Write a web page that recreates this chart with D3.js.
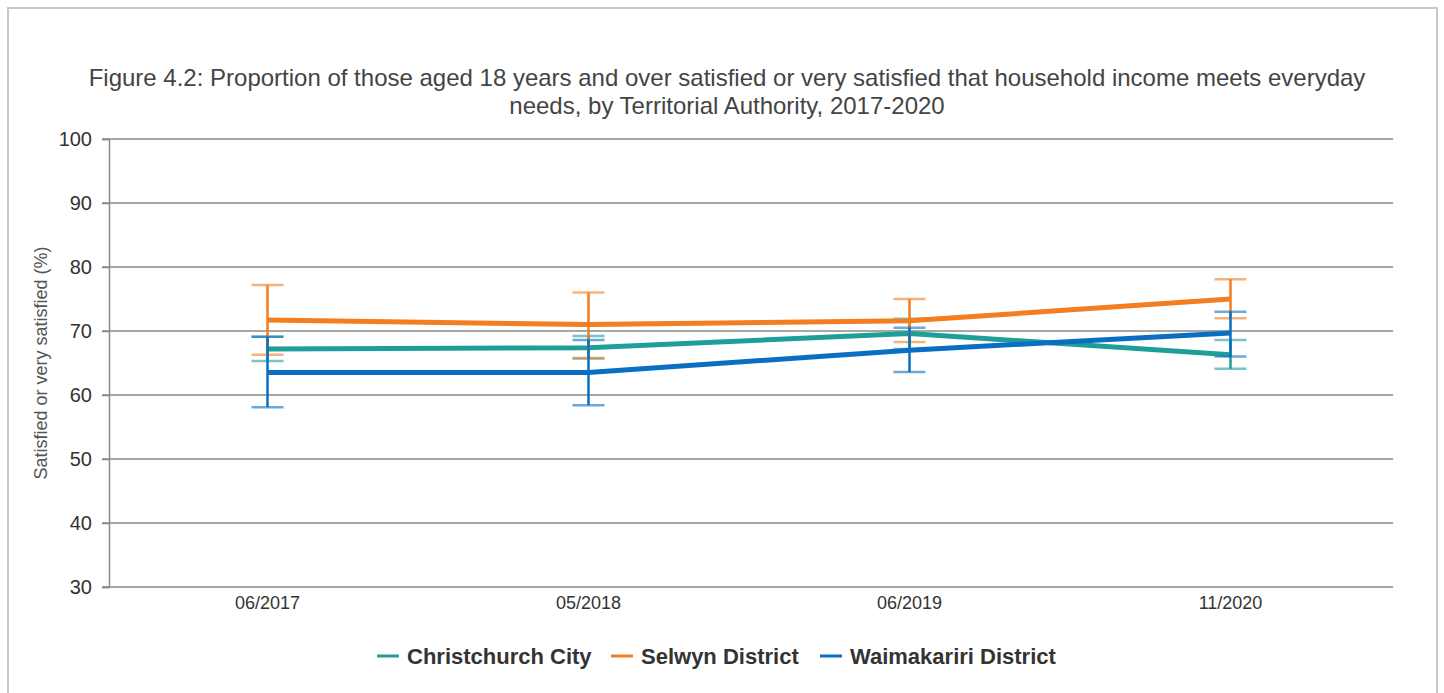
<!DOCTYPE html>
<html>
<head>
<meta charset="utf-8">
<script src="https://cdn.jsdelivr.net/npm/d3@7"></script>
<style>
  body { margin: 0; background: #fff; font-family: "Liberation Sans", Arial, sans-serif; }
</style>
</head>
<body>
<svg id="chart" width="1444" height="693"></svg>
<script>
// ===== DATA =====
const periods = ["06/2017", "05/2018", "06/2019", "11/2020"];
const yTicks = [30, 40, 50, 60, 70, 80, 90, 100];

const christchurchVals = [67.2, 67.4, 69.6, 66.3];
const christchurchLow = [65.3, 65.7, 67.2, 64.1];
const christchurchHigh = [69.1, 69.2, 71.9, 68.6];

const selwynVals = [71.7, 71.0, 71.6, 75.0];
const selwynLow = [66.3, 65.8, 68.3, 72.0];
const selwynHigh = [77.2, 76.0, 75.0, 78.1];

const waimakaririVals = [63.5, 63.5, 67.0, 69.7];
const waimakaririLow = [58.1, 58.4, 63.6, 66.0];
const waimakaririHigh = [69.1, 68.6, 70.5, 73.0];

const series = [
  { name: "Christchurch City", color: "#1f9e98", vals: christchurchVals, low: christchurchLow, high: christchurchHigh },
  { name: "Selwyn District", color: "#f47d20", vals: selwynVals, low: selwynLow, high: selwynHigh },
  { name: "Waimakariri District", color: "#0a6fc2", vals: waimakaririVals, low: waimakaririLow, high: waimakaririHigh },
];

// ===== SETUP =====
const svg = d3.select("#chart");
const plot = { left: 109, right: 1393, top: 139, bottom: 587 };

svg.append("rect")
  .attr("x", 8).attr("y", 8).attr("width", 1429).attr("height", 720)
  .attr("fill", "#fff").attr("stroke", "#c8c8c8").attr("stroke-width", 2);

const x = d3.scaleBand().domain(periods).range([plot.left, plot.right]);
const y = d3.scaleLinear().domain([30, 100]).range([plot.bottom, plot.top]);

// title
const title = svg.append("text")
  .attr("text-anchor", "middle")
  .attr("fill", "#444")
  .style("font-size", "24px");
title.append("tspan").attr("x", 727).attr("y", 86)
  .text("Figure 4.2: Proportion of those aged 18 years and over satisfied or very satisfied that household income meets everyday");
title.append("tspan").attr("x", 727).attr("y", 114)
  .text("needs, by Territorial Authority, 2017-2020");

// grid
svg.append("g")
  .selectAll("line")
  .data(yTicks)
  .join("line")
  .attr("x1", plot.left - 7).attr("x2", plot.right)
  .attr("y1", (d) => y(d)).attr("y2", (d) => y(d))
  .attr("stroke", "#8a8a8a").attr("stroke-width", 1.5);

// y axis
const yAxis = svg.append("g")
  .attr("transform", `translate(${plot.left},0)`)
  .call(d3.axisLeft(y).tickValues(yTicks).tickSize(7).tickPadding(10));
yAxis.select(".domain").attr("stroke", "#8a8a8a").attr("stroke-width", 1.5);
yAxis.selectAll(".tick line").attr("stroke", "#8a8a8a").attr("stroke-width", 1.5);
yAxis.selectAll("text")
  .style("font-size", "20px")
  .style("font-family", "'Liberation Sans', Arial, sans-serif")
  .attr("fill", "#333");

svg.append("text")
  .attr("transform", `translate(47,${(plot.top + plot.bottom) / 2}) rotate(-90)`)
  .attr("text-anchor", "middle")
  .attr("fill", "#555")
  .style("font-size", "18px")
  .text("Satisfied or very satisfied (%)");

// x labels
svg.append("g")
  .selectAll("text")
  .data(periods)
  .join("text")
  .attr("x", (d) => x(d) + x.bandwidth() / 2 - 2)
  .attr("y", 609)
  .attr("text-anchor", "middle")
  .attr("fill", "#333")
  .style("font-size", "18px")
  .text((d) => d);

// ===== SERIES =====
const cx = (i) => x(periods[i]) + x.bandwidth() / 2 - 2;
const line = d3.line().x((d, i) => cx(i)).y((d) => y(d));

series.forEach((s) => {
  const g = svg.append("g");
  g.append("path")
    .datum(s.vals)
    .attr("fill", "none")
    .attr("stroke", s.color)
    .attr("stroke-width", 5)
    .attr("d", line);

  // error bars
  s.vals.forEach((v, i) => {
    g.append("line")
      .attr("x1", cx(i)).attr("x2", cx(i))
      .attr("y1", y(s.low[i])).attr("y2", y(s.high[i]))
      .attr("stroke", s.color).attr("stroke-width", 2.5);
    [s.low[i], s.high[i]].forEach((e) => {
      g.append("line")
        .attr("x1", cx(i) - 16).attr("x2", cx(i) + 16)
        .attr("y1", y(e)).attr("y2", y(e))
        .attr("stroke", s.color).attr("stroke-opacity", 0.6)
        .attr("stroke-width", 2.5);
    });
  });
});

// ===== LEGEND =====
const legend = svg.append("g").attr("transform", "translate(0,656)");
const legendX = [377, 611, 820];
series.forEach((s, i) => {
  legend.append("line")
    .attr("x1", legendX[i]).attr("x2", legendX[i] + 22)
    .attr("y1", 0).attr("y2", 0)
    .attr("stroke", s.color).attr("stroke-width", 3);
  legend.append("text")
    .attr("x", legendX[i] + 30)
    .attr("y", 8)
    .attr("fill", "#333")
    .style("font-size", "22px")
    .style("font-weight", "bold")
    .text(s.name);
});
</script>
</body>
</html>
